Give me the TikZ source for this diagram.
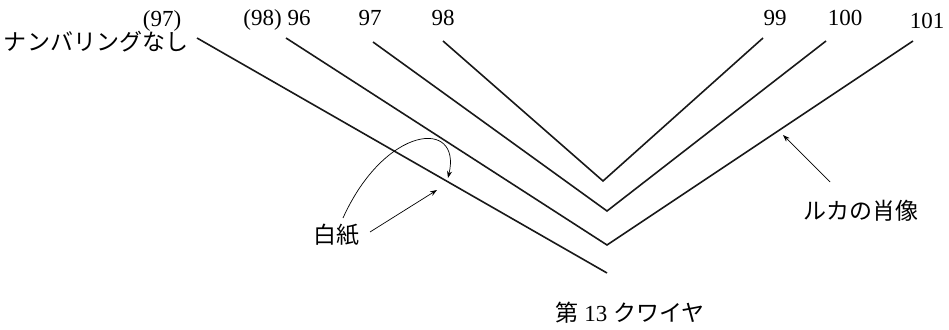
\documentclass[tikz,border=0pt]{standalone}
\usepackage{fontspec}
\setmainfont{Liberation Serif}
\newfontfamily\jp{Noto Sans CJK JP}
\usetikzlibrary{arrows.meta}
\tikzset{
  sheet/.style={line width=1.6pt, line join=miter, black!90},
  lbl/.style={inner sep=0pt, anchor=base, font=\fontsize{23}{26}\selectfont},
  jlbl/.style={lbl, font=\fontsize{23}{26}\selectfont\jp},
  arr/.style={line width=0.7pt, -{Stealth[length=7pt,width=5pt]}}
}
\begin{document}
\begin{tikzpicture}[x=1pt,y=-1pt]
\useasboundingbox (0,0) rectangle (949,329);
\fill[white] (0,0) rectangle (949,329);
% sheet lines
\coordinate (a1) at (197,38); \coordinate (a2) at (607,273);
\coordinate (b1) at (286,38); \coordinate (bv) at (607,245); \coordinate (b2) at (913,41);
\coordinate (c1) at (373,42); \coordinate (cv) at (607,211); \coordinate (c2) at (826,41);
\coordinate (d1) at (443,41); \coordinate (dv) at (603,181); \coordinate (d2) at (763,38);
\draw[sheet] (a1) -- (a2);
\draw[sheet] (b1) -- (bv) -- (b2);
\draw[sheet] (c1) -- (cv) -- (c2);
\draw[sheet] (d1) -- (dv) -- (d2);
% top labels
\node[lbl] (l97p) at (162,27) {(97)};
\node[jlbl] (lnone) at (96,50) {ナンバリングなし};
\node[lbl] (l98p) at (277,26) {(98) 96};
\node[lbl] (l97) at (370,26) {97};
\node[lbl] (l98) at (443,26) {98};
\node[lbl] (l99) at (775,26) {99};
\node[lbl] (l100) at (845,26) {100};
\node[lbl] (l101) at (927,29) {101};
% bottom labels
\node[jlbl] (haku) at (336,243) {白紙};
\node[jlbl] (luka) at (861,219) {ルカの肖像};
\node[lbl] (q13) at (630,321) {{\jp 第} 13 {\jp クワイヤ}};
% arrows
\coordinate (hs1) at (370,232); \coordinate (ht1) at (437,190);
\coordinate (hs2) at (343,218); \coordinate (ht2) at (448,178);
\coordinate (ls) at (830,182); \coordinate (lt) at (783,135);
\draw[arr] (hs1) -- (ht1);
\draw[arr] (hs2) .. controls (385,125) and (462,118) .. (ht2);
\draw[arr] (ls) -- (lt);
\end{tikzpicture}
\end{document}
